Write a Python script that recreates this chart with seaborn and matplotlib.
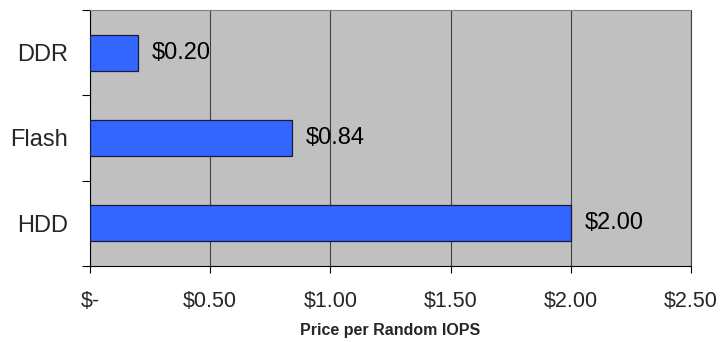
import matplotlib
matplotlib.use("Agg")
import matplotlib.pyplot as plt
import seaborn as sns
import pandas as pd
from matplotlib.ticker import FixedLocator

categories = ["DDR", "Flash", "HDD"]
prices = [0.20, 0.84, 2.00]
value_labels = ["$0.20", "$0.84", "$2.00"]
xtick_values = [0.0, 0.5, 1.0, 1.5, 2.0, 2.5]
xtick_labels = ["$-", "$0.50", "$1.00", "$1.50", "$2.00", "$2.50"]
x_title = "Price per Random IOPS"

sns.set_style("white")
plt.rcParams["font.family"] = ["Liberation Sans", "DejaVu Sans"]
plt.rcParams["text.parse_math"] = False

df = pd.DataFrame({"category": categories, "price": prices})

fig = plt.figure(figsize=(7.21, 3.42), dpi=100)
ax = fig.add_axes([90/721, 76/342, 601/721, 256/342])
ax.set_facecolor("#C0C0C0")

sns.barplot(data=df, x="price", y="category", orient="h", color="#3366FF",
            saturation=1, width=0.42, edgecolor="#1a1a3a", linewidth=0.9, ax=ax, zorder=3)

ax.set_xlim(0, 2.5)
ax.set_ylim(2.5, -0.5)
ax.set_xticks(xtick_values)
ax.set_xticklabels(xtick_labels, fontsize=15.5)
ax.grid(axis="x", color="#404040", linewidth=0.8, zorder=1)
ax.grid(axis="y", visible=False)
ax.set_axisbelow(True)

ax.tick_params(axis="x", direction="out", length=5, width=0.8, color="black", pad=13)
ax.tick_params(axis="y", which="major", length=0, pad=16, labelsize=17)
ax.yaxis.set_minor_locator(FixedLocator([-0.5, 0.5, 1.5, 2.5]))
ax.tick_params(axis="y", which="minor", direction="out", length=6, width=0.8, color="black")
ax.xaxis.tick_bottom()
ax.yaxis.tick_left()

ax.set_ylabel("")
ax.set_xlabel(x_title, fontsize=11.5, fontweight="bold", labelpad=8)

for name, sp in ax.spines.items():
    sp.set_visible(True)
    sp.set_linewidth(0.8)
ax.spines["left"].set_color("black")
ax.spines["bottom"].set_color("black")
ax.spines["top"].set_color("#808080")
ax.spines["right"].set_color("#404040")

ax.bar_label(ax.containers[0], labels=value_labels, padding=10, fontsize=17, color="black")

fig.savefig("out.png", dpi=100)
